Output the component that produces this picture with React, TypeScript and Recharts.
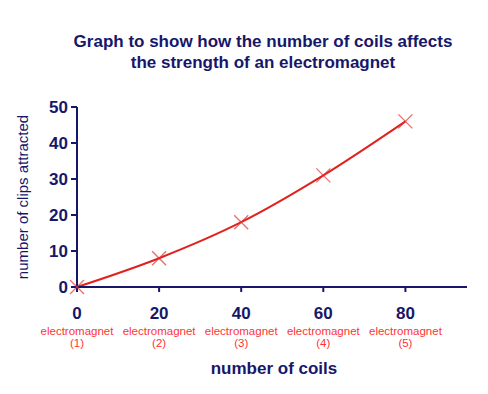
import React from 'react';
import { LineChart, Line, XAxis, YAxis, Label } from 'recharts';

const coils = [0, 20, 40, 60, 80];
const clips = [0, 8, 18, 31, 46];
const magnetNames = ['electromagnet', 'electromagnet', 'electromagnet', 'electromagnet', 'electromagnet'];
const magnetNumbers = ['(1)', '(2)', '(3)', '(4)', '(5)'];
const yTicks = [0, 10, 20, 30, 40, 50];

const data = coils.map((c, i) => ({ coils: c, clips: clips[i] }));

const NAVY = '#17176a';
const RED = '#e0221e';
const FONT = '"Liberation Sans", Arial, sans-serif';

const CoilTick = (props: any) => {
  const { x, y, payload } = props;
  const i = coils.indexOf(payload.value);
  return (
    <g transform={`translate(${x},${y})`}>
      <text x={0} y={0} dy={25} textAnchor="middle" fill={NAVY} fontSize={17} fontWeight="bold" fontFamily={FONT}>
        {payload.value}
      </text>
      <text x={0} y={0} dy={41} textAnchor="middle" fill="#ff3333" fontSize={11.5} fontFamily={FONT}>
        {magnetNames[i]}
      </text>
      <text x={0} y={0} dy={53} textAnchor="middle" fill="#ff3333" fontSize={11.5} fontFamily={FONT}>
        {magnetNumbers[i]}
      </text>
    </g>
  );
};

const Cross = (props: any) => {
  const { cx, cy, index } = props;
  const s = 7;
  return (
    <g key={`cross-${index}`} stroke="#e03030" strokeOpacity={0.7} strokeWidth={1.3}>
      <line x1={cx - s} y1={cy - s} x2={cx + s} y2={cy + s} />
      <line x1={cx - s} y1={cy + s} x2={cx + s} y2={cy - s} />
    </g>
  );
};

export default function App() {
  return (
    <div style={{ position: 'absolute', left: 0, top: 0, width: 488, height: 394, background: '#fff' }}>
      <div
        style={{
          position: 'absolute',
          left: 40,
          top: 31,
          width: 446,
          textAlign: 'center',
          color: NAVY,
          fontFamily: FONT,
          fontWeight: 'bold',
          fontSize: 17,
          lineHeight: '21px',
        }}
      >
        Graph to show how the number of coils affects
        <br />
        the strength of an electromagnet
      </div>
      <LineChart width={488} height={394} data={data} margin={{ top: 107, right: 21, left: 17, bottom: 47 }}>
        <XAxis
          dataKey="coils"
          type="number"
          domain={[0, 95]}
          ticks={coils}
          tick={<CoilTick />}
          tickLine={{ stroke: NAVY, strokeWidth: 2 }}
          axisLine={{ stroke: NAVY, strokeWidth: 2 }}
          tickSize={5}
          height={60}
          interval={0}
        >
          <Label
            value="number of coils"
            position="insideBottom"
            offset={-27}
            dx={2}
            fill={NAVY}
            fontSize={17}
            fontWeight="bold"
            fontFamily={FONT}
          />
        </XAxis>
        <YAxis
          type="number"
          domain={[0, 50]}
          ticks={yTicks}
          width={60}
          tickSize={6}
          tickMargin={3}
          tick={{ fill: NAVY, fontSize: 17, fontWeight: 'bold', fontFamily: FONT }}
          tickLine={{ stroke: NAVY, strokeWidth: 2 }}
          axisLine={{ stroke: NAVY, strokeWidth: 2 }}
        >
          <Label
            value="number of clips attracted"
            angle={-90}
            position="insideLeft"
            offset={6}
            fill={NAVY}
            fontSize={15}
            fontFamily={FONT}
            style={{ textAnchor: 'middle' }}
          />
        </YAxis>
        <Line
          type="monotone"
          dataKey="clips"
          stroke={RED}
          strokeWidth={2}
          dot={<Cross />}
          activeDot={false}
          isAnimationActive={false}
        />
      </LineChart>
    </div>
  );
}
